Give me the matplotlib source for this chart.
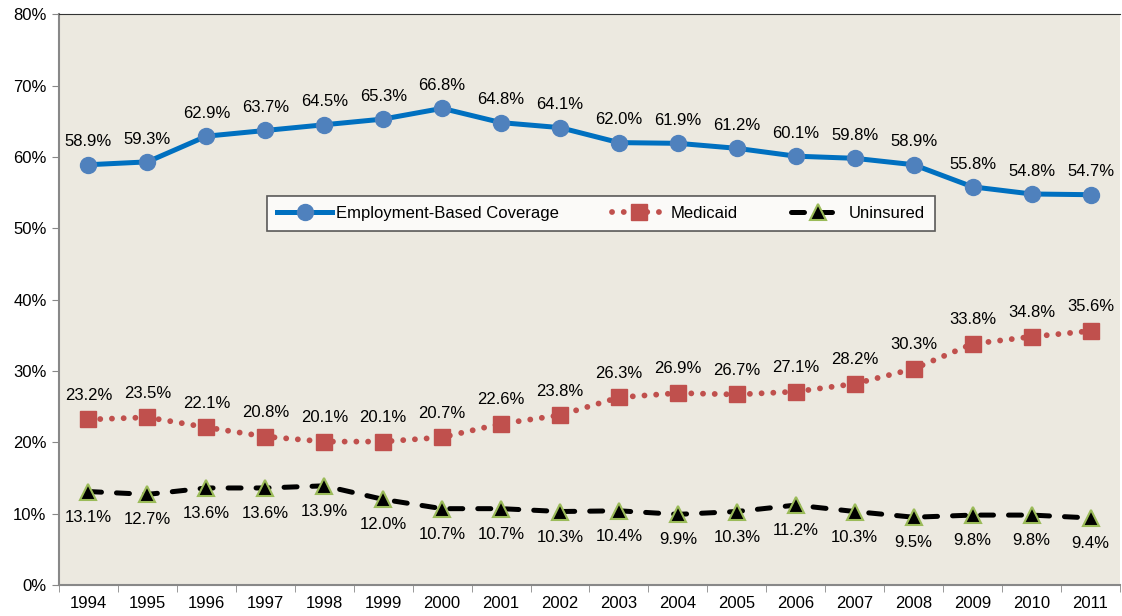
import matplotlib

matplotlib.use("Agg")

import matplotlib.pyplot as plt
import numpy as np
from matplotlib.ticker import FuncFormatter, MultipleLocator

years = [str(y) for y in range(1994, 2012)]
employment = [58.9, 59.3, 62.9, 63.7, 64.5, 65.3, 66.8, 64.8, 64.1, 62.0,
              61.9, 61.2, 60.1, 59.8, 58.9, 55.8, 54.8, 54.7]
medicaid = [23.2, 23.5, 22.1, 20.8, 20.1, 20.1, 20.7, 22.6, 23.8, 26.3,
            26.9, 26.7, 27.1, 28.2, 30.3, 33.8, 34.8, 35.6]
uninsured = [13.1, 12.7, 13.6, 13.6, 13.9, 12.0, 10.7, 10.7, 10.3, 10.4,
             9.9, 10.3, 11.2, 10.3, 9.5, 9.8, 9.8, 9.4]

plt.rcParams["font.family"] = ["Liberation Sans", "DejaVu Sans"]

fig = plt.figure(figsize=(11.22, 6.16), dpi=100)
ax = fig.add_axes([0.0526, 0.0503, 0.9456, 0.9267])
ax.set_facecolor("#ECE9E0")

x = np.arange(len(years))
blue = "#0070C0"
blue_marker = "#4F81BD"
red = "#C0504D"

ax.plot(x, employment, color=blue, lw=3.6, marker="o", ms=11.5,
        mfc=blue_marker, mec=blue_marker, label="Employment-Based Coverage", zorder=3)
ax.plot(x, medicaid, color=red, lw=4.2, ls=(0, (0.01, 2.0)), dash_capstyle="round",
        marker="s", ms=12, mfc=red, mec=red, label="Medicaid", zorder=3)
ax.plot(x, uninsured, color="black", lw=3.6, ls=(0, (2.6, 3.0)), dash_capstyle="round",
        marker="^", ms=12, mfc="black", mec="#9BBB59", mew=1.5, label="Uninsured", zorder=3)

lab = dict(textcoords="offset points", ha="center", fontsize=12)
for i in x:
    ax.annotate(f"{employment[i]:.1f}%", (i, employment[i]), xytext=(0, 11), va="bottom", **lab)
    ax.annotate(f"{medicaid[i]:.1f}%", (i, medicaid[i]), xytext=(0, 12), va="bottom", **lab)
    ax.annotate(f"{uninsured[i]:.1f}%", (i, uninsured[i]), xytext=(0, -13), va="top", **lab)

ax.set_xlim(-0.5, len(years) - 0.5)
ax.set_ylim(0, 80)
ax.yaxis.set_major_locator(MultipleLocator(10))
ax.yaxis.set_major_formatter(FuncFormatter(lambda v, _: f"{v:.0f}%"))
ax.set_xticks(x)
ax.set_xticklabels(years)
ax.set_xticks(np.arange(-0.5, len(years)), minor=True)
ax.tick_params(axis="x", which="major", length=0, labelsize=12, pad=8)
ax.tick_params(axis="x", which="minor", length=5, color="#888888")
ax.tick_params(axis="y", length=5, color="#888888", labelsize=12, pad=4)

for side in ["left", "bottom"]:
    ax.spines[side].set_color("#888888")
    ax.spines[side].set_linewidth(1.5)
ax.spines["top"].set_color("#333333")
ax.spines["right"].set_visible(False)

leg = ax.legend(loc="center", bbox_to_anchor=(0.511, 0.651), ncol=3, fontsize=12,
                frameon=True, fancybox=False, edgecolor="#333333", facecolor="white",
                handlelength=3.3, columnspacing=3.2, borderpad=0.6, handletextpad=0.2)
leg.get_frame().set_linewidth(1.2)

fig.savefig("out.png", dpi=100)
